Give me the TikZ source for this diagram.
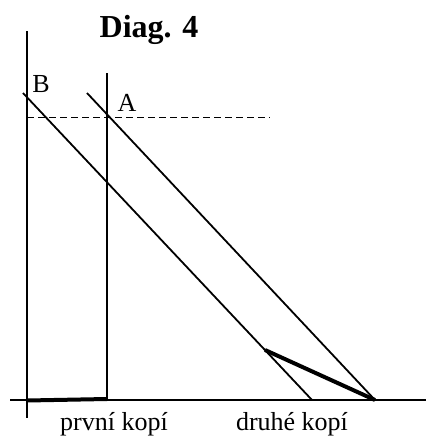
\documentclass[tikz,border=0pt]{standalone}
\usepackage{fontspec}
\setmainfont{Liberation Serif}
\begin{document}
\begin{tikzpicture}[x=1pt,y=-1pt,
  ln/.style={line width=1.8pt},
  thk/.style={line width=4pt},
  dsh/.style={line width=0.7pt,dash pattern=on 7pt off 4pt},
  lbl/.style={font=\fontsize{26}{28}\selectfont,inner sep=0pt},
  ttl/.style={font=\fontsize{32}{36}\selectfont\bfseries,inner sep=0pt}]
\useasboundingbox (0,0) rectangle (426,439);
\coordinate (Ltop) at (27,31);
\coordinate (Lbot) at (27,418);
\coordinate (Xl) at (10,400);
\coordinate (Xr) at (426,400);
\coordinate (Vtop) at (107,73);
\coordinate (Vbot) at (107,399);
\coordinate (O) at (27,400.5);
\coordinate (Bs) at (23,93);
\coordinate (Be) at (312,400);
\coordinate (As) at (87,93);
\coordinate (Ae) at (375,400);
\coordinate (P) at (265,350);
\coordinate (Dl) at (27,117);
\coordinate (Dr) at (270,117);
\draw[ln] (Ltop) -- (Lbot);
\draw[ln] (Xl) -- (Xr);
\draw[ln] (Vtop) -- (Vbot);
\draw[ln] (Bs) -- (Be);
\draw[ln] (As) -- (Ae);
\draw[dsh] (Dl) -- (Dr);
\draw[thk] (O) -- (Vbot);
\draw[thk] (P) -- (Ae);
\node[lbl] (lB) at (41,84) {B};
\node[lbl] (lA) at (127,103) {A};
\node[ttl] (title) at (149,30) {Diag. 4};
\node[lbl] (prvni) at (114,424) {první kopí};
\node[lbl] (druhe) at (292,424) {druhé kopí};
\end{tikzpicture}
\end{document}
